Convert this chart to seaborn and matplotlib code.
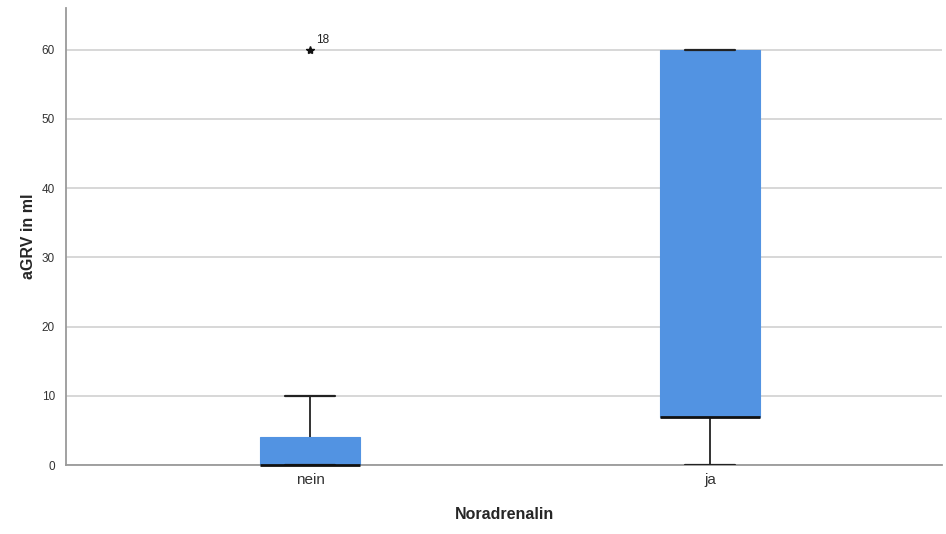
import numpy as np
import pandas as pd
import matplotlib
matplotlib.use("Agg")
import matplotlib.pyplot as plt
import seaborn as sns

# groups of the boxplot and the values behind each box
groups = ["nein", "ja"]
nein_vals = [0, 0, 0, 0, 0, 0, 0, 0, 0, 0, 4, 4, 4, 4, 4, 10, 60]
ja_vals = [0, 7, 7, 7, 7, 60, 60, 60, 60]
outlier_label = "18"

df = pd.DataFrame({
    "Noradrenalin": ["nein"] * len(nein_vals) + ["ja"] * len(ja_vals),
    "aGRV in ml": nein_vals + ja_vals,
})

sns.set_style("white")
plt.rcParams["font.family"] = ["Liberation Sans", "DejaVu Sans"]

blue = "#5293E2"
fig = plt.figure(figsize=(9.46, 5.34), dpi=100)
ax = fig.add_axes([0.0698, 0.1292, 0.926, 0.8558])

sns.boxplot(data=df, x="Noradrenalin", y="aGRV in ml", order=groups,
            width=0.25, whis=1.5, ax=ax,
            boxprops=dict(facecolor=blue, edgecolor=blue, linewidth=0.8, zorder=3),
            medianprops=dict(color="#111111", linewidth=2, zorder=4),
            whiskerprops=dict(color="#222222", linewidth=1.3, zorder=3),
            capprops=dict(color="#222222", linewidth=1.6, zorder=3),
            flierprops=dict(marker="*", markersize=6, markerfacecolor="#111111",
                            markeredgecolor="#111111", zorder=4))

# median lines sitting on the axis should stay visible
for ln in ax.lines:
    if ln.get_linewidth() == 2:
        ln.set_clip_on(False)
        ln.set_zorder(5)

# label of the extreme value
ax.annotate(outlier_label, xy=(0, max(nein_vals)), xytext=(4, 5),
            textcoords="offset points", fontsize=8.5, color="#222222")

ax.set_ylim(0, 66)
ax.set_xlim(-0.61, 1.58)
ax.set_yticks([0, 10, 20, 30, 40, 50, 60])
ax.yaxis.grid(True, color="#d4d4d4", linewidth=1.3, zorder=0)
ax.set_axisbelow(True)
ax.tick_params(axis="both", length=0)
ax.tick_params(axis="y", labelsize=8.5, labelcolor="#333333", pad=8)
ax.tick_params(axis="x", labelsize=11, labelcolor="#333333", pad=6)

for side in ["top", "right"]:
    ax.spines[side].set_visible(False)
for side in ["left", "bottom"]:
    ax.spines[side].set_color("#9a9a9a")
    ax.spines[side].set_linewidth(1.3)

ax.set_xlabel("Noradrenalin", fontsize=11.5, fontweight="bold", labelpad=14)
ax.set_ylabel("aGRV in ml", fontsize=11.5, fontweight="bold", labelpad=4)

fig.savefig("out.png", dpi=100)
